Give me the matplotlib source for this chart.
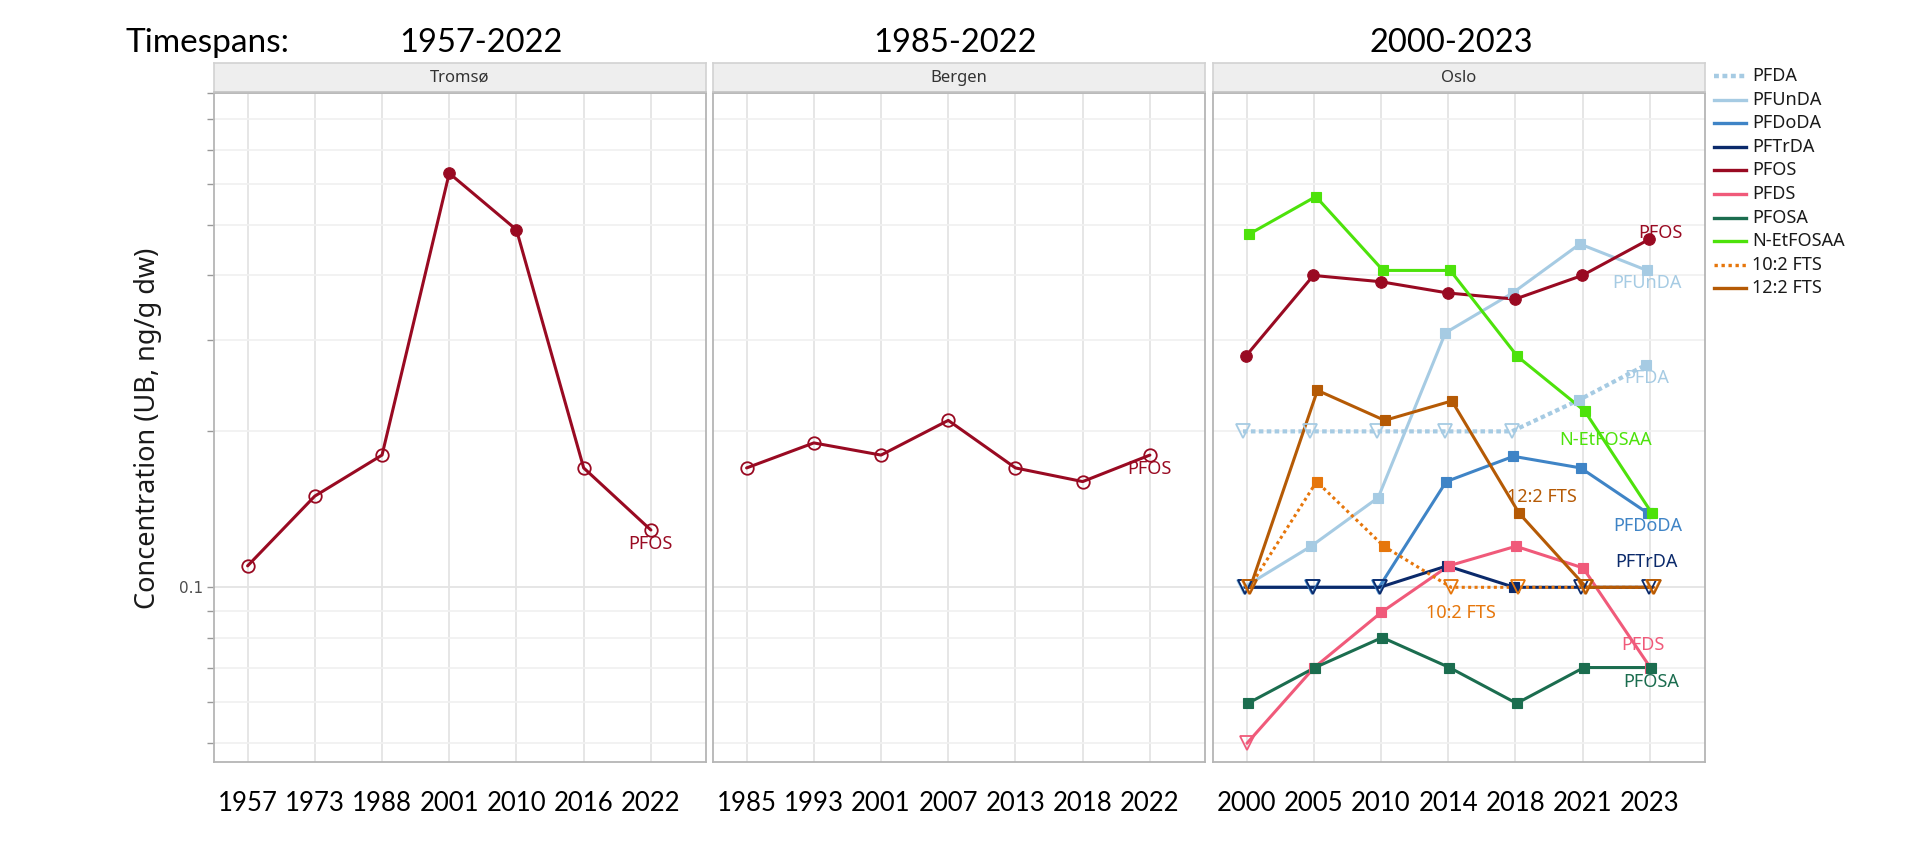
import matplotlib
matplotlib.use('Agg')
import matplotlib.pyplot as plt
from matplotlib.lines import Line2D
from matplotlib.ticker import LogLocator, FuncFormatter, NullFormatter, FixedLocator

# ---------------- data ----------------
sites = ['Tromsø', 'Bergen', 'Oslo']
timespans = ['1957-2022', '1985-2022', '2000-2023']

years_tromso = ['1957', '1973', '1988', '2001', '2010', '2016', '2022']
years_bergen = ['1985', '1993', '2001', '2007', '2013', '2018', '2022']
years_oslo = ['2000', '2005', '2010', '2014', '2018', '2021', '2023']

pfos_tromso = [0.110, 0.150, 0.180, 0.630, 0.490, 0.170, 0.129]
pfos_tromso_detected = [False, False, False, True, True, False, False]
pfos_bergen = [0.170, 0.190, 0.180, 0.210, 0.170, 0.160, 0.180]
pfos_bergen_detected = [False, False, False, False, False, False, False]

compounds = ['PFDA', 'PFUnDA', 'PFDoDA', 'PFTrDA', 'PFOS', 'PFDS', 'PFOSA',
             'N-EtFOSAA', '10:2 FTS', '12:2 FTS']

oslo_pfda = [0.200, 0.200, 0.200, 0.200, 0.200, 0.230, 0.269]
oslo_pfunda = [0.100, 0.120, 0.149, 0.310, 0.370, 0.460, 0.409]
oslo_pfdoda = [0.100, 0.100, 0.100, 0.160, 0.179, 0.170, 0.139]
oslo_pftrda = [0.100, 0.100, 0.100, 0.110, 0.100, 0.100, 0.100]
oslo_pfos = [0.280, 0.400, 0.389, 0.370, 0.360, 0.400, 0.470]
oslo_pfds = [0.050, 0.070, 0.0895, 0.110, 0.120, 0.109, 0.070]
oslo_pfosa = [0.0597, 0.070, 0.080, 0.070, 0.0597, 0.070, 0.070]
oslo_netfosaa = [0.480, 0.568, 0.409, 0.409, 0.279, 0.219, 0.139]
oslo_fts102 = [0.100, 0.160, 0.120, 0.100, 0.100, 0.100, 0.100]
oslo_fts122 = [0.100, 0.240, 0.210, 0.229, 0.139, 0.100, 0.100]

oslo_pfda_det = [0, 0, 0, 0, 0, 1, 1]
oslo_pfunda_det = [0, 1, 1, 1, 1, 1, 1]
oslo_pfdoda_det = [0, 0, 0, 1, 1, 1, 1]
oslo_pftrda_det = [0, 0, 0, 1, 1, 0, 0]
oslo_pfos_det = [1, 1, 1, 1, 1, 1, 1]
oslo_pfds_det = [0, 1, 1, 1, 1, 1, 1]
oslo_pfosa_det = [1, 1, 1, 1, 1, 1, 1]
oslo_netfosaa_det = [1, 1, 1, 1, 1, 1, 1]
oslo_fts102_det = [0, 1, 1, 0, 0, 0, 0]
oslo_fts122_det = [0, 1, 1, 1, 1, 0, 0]

oslo_values = dict(zip(compounds, [oslo_pfda, oslo_pfunda, oslo_pfdoda, oslo_pftrda,
                                   oslo_pfos, oslo_pfds, oslo_pfosa, oslo_netfosaa,
                                   oslo_fts102, oslo_fts122]))
oslo_detected = dict(zip(compounds, [oslo_pfda_det, oslo_pfunda_det, oslo_pfdoda_det,
                                     oslo_pftrda_det, oslo_pfos_det, oslo_pfds_det,
                                     oslo_pfosa_det, oslo_netfosaa_det, oslo_fts102_det,
                                     oslo_fts122_det]))

# ---------------- styles ----------------
colors = {
    'PFDA': '#a6cbe3', 'PFUnDA': '#a6cbe3', 'PFDoDA': '#3f84c6', 'PFTrDA': '#0b2a6b',
    'PFOS': '#990a22', 'PFDS': '#f05a7a', 'PFOSA': '#1b6d4f', 'N-EtFOSAA': '#4de20b',
    '10:2 FTS': '#e6760b', '12:2 FTS': '#b55a05',
}
dotted = {'PFDA': (0, (1.1, 0.8)), '10:2 FTS': (0, (1.0, 1.1))}
widths = {'PFDA': 3.0}
markers = {'PFOS': 'o'}
# label offsets (pixels) relative to the last point
label_off = {
    'PFOS': (11, 6), 'PFUnDA': (0, -13), 'PFDA': (0, -13), 'N-EtFOSAA': (-46, 73),
    '12:2 FTS': (-112, 90), 'PFDoDA': (0, -13), 'PFTrDA': (-2, 25),
    '10:2 FTS': (-192, -26), 'PFDS': (-7, 23), 'PFOSA': (0, -14),
}

W, H = 1920, 861
fig = plt.figure(figsize=(W / 100, H / 100), dpi=100)

SANS = ['Noto Sans', 'DejaVu Sans']
TITLE = ['Lato', 'DejaVu Sans']

panel_x = [(214, 706), (713, 1205), (1213, 1705)]
top, bottom = 93, 762
strip_top = 63

def fig_rect(x0, x1, y0, y1):
    return [x0 / W, 1 - y1 / H, (x1 - x0) / W, (y1 - y0) / H]

LW = 2.2
GRID = '#e4e4e4'
GRID_MINOR = '#f1f1f1'

axes = []
for i, (x0, x1) in enumerate(panel_x):
    ax = fig.add_axes(fig_rect(x0, x1, top, bottom))
    ax.set_yscale('log')
    ax.set_ylim(0.046, 0.90)
    ax.set_xlim(0.5, 7.82)
    ax.yaxis.set_major_locator(LogLocator(base=10, subs=(1.0,)))
    ax.yaxis.set_minor_locator(LogLocator(base=10, subs=(2, 3, 4, 5, 6, 7, 8, 9)))
    ax.yaxis.set_major_formatter(FuncFormatter(lambda v, p: f'{v:g}'))
    ax.yaxis.set_minor_formatter(NullFormatter())
    ax.grid(True, which='major', axis='y', color=GRID, lw=1.3)
    ax.grid(True, which='minor', axis='y', color=GRID_MINOR, lw=1.3)
    ax.grid(True, which='major', axis='x', color=GRID, lw=1.3)
    ax.set_axisbelow(True)
    for s in ax.spines.values():
        s.set_color('#b5b5b5')
        s.set_linewidth(1.3)
    ax.tick_params(axis='x', length=0, pad=21, labelsize=18.5, labelcolor='black')
    if i == 0:
        ax.tick_params(axis='y', which='both', length=5, color='#999999', width=1,
                       labelsize=11, labelcolor='#4d4d4d', pad=3)
    else:
        ax.tick_params(axis='y', which='both', length=0, labelleft=False)
    axes.append(ax)

    # strip
    sax = fig.add_axes(fig_rect(x0, x1, strip_top, top - 1))
    sax.set_facecolor('#eeeeee')
    sax.set_xticks([])
    sax.set_yticks([])
    for s in sax.spines.values():
        s.set_color('#d2d2d2')
        s.set_linewidth(1.2)
    sax.spines['bottom'].set_color('#c2c2c2')
    sax.text(0.5, 0.5, sites[i], ha='center', va='center', fontsize=12,
             color='#333333', family=SANS, transform=sax.transAxes)


def draw_series(ax, cats, vals, det, name, dodge=0.0, open_marker='v', filled_marker='s'):
    xs = [k + 1 + dodge for k in range(len(cats))]
    c = colors[name]
    ax.plot(xs, vals, color=c, lw=widths.get(name, LW), ls=dotted.get(name, '-'),
            solid_capstyle='round', zorder=3)
    fx = [x for x, d in zip(xs, det) if d]
    fy = [v for v, d in zip(vals, det) if d]
    ox = [x for x, d in zip(xs, det) if not d]
    oy = [v for v, d in zip(vals, det) if not d]
    msize = 8.3 if filled_marker == 'o' else 7.8
    ax.plot(fx, fy, ls='none', marker=filled_marker, ms=msize, color=c,
            markeredgecolor=c, markeredgewidth=0.8, zorder=4)
    ax.plot(ox, oy, ls='none', marker=open_marker, ms=10.5 if open_marker == 'v' else 9.0,
            markerfacecolor='none', markeredgecolor=c, markeredgewidth=1.3, zorder=4)
    return xs


for ax, cats in zip(axes, [years_tromso, years_bergen, years_oslo]):
    ax.xaxis.set_major_locator(FixedLocator(range(1, len(cats) + 1)))
    ax.set_xticklabels(cats, family=TITLE)

# Tromsø & Bergen
for ax, cats, vals, det in [(axes[0], years_tromso, pfos_tromso, pfos_tromso_detected),
                            (axes[1], years_bergen, pfos_bergen, pfos_bergen_detected)]:
    xs = draw_series(ax, cats, vals, det, 'PFOS', open_marker='o', filled_marker='o')
    ax.annotate('PFOS', xy=(xs[-1], vals[-1]), xytext=(0, -14), textcoords='offset pixels',
                ha='center', va='center', fontsize=13, color=colors['PFOS'], family=SANS,
                zorder=6)

# Oslo
ax = axes[2]
for j, name in enumerate(compounds):
    dodge = 0.012 * (j - 4.5)
    xs = draw_series(ax, years_oslo, oslo_values[name], oslo_detected[name], name,
                     dodge=dodge, open_marker='v', filled_marker=markers.get(name, 's'))
    ax.annotate(name, xy=(xs[-1], oslo_values[name][-1]), xytext=label_off[name],
                textcoords='offset pixels', ha='center', va='center', fontsize=13,
                color=colors[name], family=SANS, zorder=6)

# titles
fig.text(126 / W, 1 - 52 / H, 'Timespans:', ha='left', va='baseline', fontsize=24,
         family=TITLE, color='black')
for t, xc in zip(timespans, [481, 955, 1451]):
    fig.text(xc / W, 1 - 52 / H, t, ha='center', va='baseline', fontsize=23.5,
             family=TITLE, color='black')

# y label
fig.text(148 / W, 1 - 428 / H, 'Concentration (UB, ng/g dw)', rotation=90, ha='center',
         va='center', fontsize=19.5, family=SANS, color='#1a1a1a')

# legend (drawn manually)
for i, name in enumerate(compounds):
    y = 1 - (76 + 23.6 * i) / H
    ln = Line2D([1714 / W, 1746 / W], [y, y], transform=fig.transFigure,
                color=colors[name], lw=widths.get(name, LW) + 0.2, ls=dotted.get(name, '-'))
    fig.add_artist(ln)
    fig.text(1752 / W, y, name, ha='left', va='center', fontsize=13, family=SANS,
             color='#1a1a1a')

fig.savefig('out.png', dpi=100, facecolor='white')
